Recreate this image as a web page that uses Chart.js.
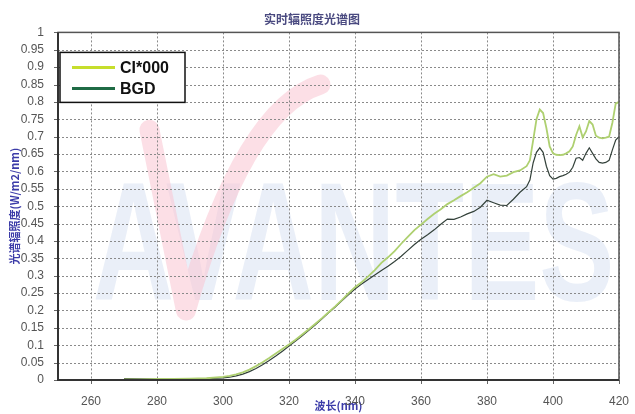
<!DOCTYPE html>
<html>
<head>
<meta charset="utf-8">
<script src="https://cdn.jsdelivr.net/npm/chart.js@4"></script>
<style>
  html, body { margin: 0; padding: 0; background: #fff; }
  #wrap { width: 635px; height: 414px; position: relative; }
</style>
</head>
<body>
<div id="wrap"><canvas id="spectrumChart" width="635" height="414"></canvas></div>
<script>
// ====== data ======
const chartTitle = '实时辐照度光谱图';
const xTitle = '波长(nm)';
const yTitle = '光谱辐照度(W/m2/nm)';

const wavelengths = [270, 275, 280, 285, 290, 295, 300,
  302, 304, 306, 308, 310, 312, 314, 316, 318, 320, 322, 324, 326, 328, 330,
  332, 334, 336, 338, 340, 342, 344, 346, 348, 350, 352, 354, 356, 358, 360,
  362, 364, 366, 368, 370, 372, 374, 376, 378, 380, 382, 384, 386, 388, 390, 392,
  393, 394, 395, 396, 397, 398, 399, 400, 401, 402, 403, 404, 405, 406, 407, 408,
  409, 410, 411, 412, 413, 414, 415, 416, 417, 418, 419, 420];

const ciValues = [0.002, 0.002, 0.003, 0.003, 0.004, 0.005, 0.009,
  0.012, 0.016, 0.022, 0.030, 0.040, 0.051, 0.063, 0.076, 0.089, 0.102, 0.116, 0.131, 0.146, 0.162, 0.178,
  0.195, 0.212, 0.230, 0.249, 0.267, 0.281, 0.298, 0.316, 0.337, 0.353, 0.371, 0.392, 0.412, 0.431, 0.447,
  0.463, 0.478, 0.491, 0.506, 0.517, 0.529, 0.540, 0.553, 0.566, 0.585, 0.592, 0.585, 0.588, 0.598, 0.603, 0.615,
  0.632, 0.690, 0.750, 0.778, 0.768, 0.725, 0.672, 0.652, 0.648, 0.647, 0.648, 0.652, 0.658, 0.672, 0.705, 0.730,
  0.698, 0.715, 0.745, 0.735, 0.703, 0.697, 0.695, 0.697, 0.700, 0.740, 0.795, 0.800];

const bgdValues = [0.004, 0.003, 0.003, 0.003, 0.003, 0.004, 0.006,
  0.008, 0.012, 0.017, 0.024, 0.033, 0.044, 0.056, 0.069, 0.083, 0.098, 0.112, 0.127, 0.143, 0.159, 0.176,
  0.193, 0.210, 0.228, 0.245, 0.262, 0.276, 0.289, 0.302, 0.315, 0.327, 0.341, 0.356, 0.373, 0.390, 0.405,
  0.418, 0.432, 0.448, 0.463, 0.462, 0.469, 0.478, 0.485, 0.497, 0.517, 0.510, 0.503, 0.502, 0.520, 0.540, 0.556,
  0.575, 0.625, 0.655, 0.668, 0.655, 0.615, 0.588, 0.578, 0.580, 0.585, 0.588, 0.592, 0.598, 0.612, 0.638, 0.640,
  0.632, 0.652, 0.668, 0.652, 0.636, 0.626, 0.624, 0.626, 0.632, 0.662, 0.690, 0.700];

const xTicks = [260, 280, 300, 320, 340, 360, 380, 400, 420];
const yTicks = [0, 0.05, 0.1, 0.15, 0.2, 0.25, 0.3, 0.35, 0.4, 0.45, 0.5,
  0.55, 0.6, 0.65, 0.7, 0.75, 0.8, 0.85, 0.9, 0.95, 1];

// ====== faint watermark + dotted grid behind the curves ======
const backdrop = {
  id: 'backdrop',
  beforeDatasetsDraw(chart) {
    const ctx = chart.ctx;
    const a = chart.chartArea;
    const w = a.right - a.left, h = a.bottom - a.top;
    ctx.save();
    ctx.fillStyle = '#fff';
    ctx.fillRect(a.left, a.top, w, h);
    // blue letters
    ctx.fillStyle = 'rgba(206,218,238,0.42)';
    ctx.font = 'bold 168px "Liberation Sans", Arial, sans-serif';
    ctx.textBaseline = 'alphabetic';
    const txt = 'AVANTES';
    const tw = ctx.measureText(txt).width;
    ctx.translate(a.left + w * 0.062, a.top + h * 0.77);
    ctx.scale(w * 0.93 / tw, 1);
    ctx.fillText(txt, 0, 0);
    ctx.restore();
    // pink check stroke
    ctx.save();
    ctx.strokeStyle = 'rgba(250,196,210,0.55)';
    ctx.lineWidth = 20;
    ctx.lineCap = 'round';
    ctx.lineJoin = 'round';
    ctx.beginPath();
    ctx.moveTo(a.left + w * 0.163, a.top + h * 0.28);
    ctx.lineTo(a.left + w * 0.228, a.top + h * 0.80);
    ctx.quadraticCurveTo(a.left + w * 0.33, a.top + h * 0.22, a.left + w * 0.468, a.top + h * 0.15);
    ctx.stroke();
    ctx.restore();

    // dotted grid + tick marks from the scales
    const xs = chart.scales.x, ys = chart.scales.y;
    ctx.save();
    ctx.strokeStyle = '#8a8a8a';
    ctx.lineWidth = 1;
    ctx.setLineDash([2, 2]);
    xTicks.forEach(v => {
      const px = Math.round(xs.getPixelForValue(v)) + 0.5;
      ctx.beginPath();
      ctx.moveTo(px, a.top);
      ctx.lineTo(px, a.bottom);
      ctx.stroke();
    });
    yTicks.forEach(v => {
      const py = Math.round(ys.getPixelForValue(v)) + 0.5;
      ctx.beginPath();
      ctx.moveTo(a.left, py);
      ctx.lineTo(a.right, py);
      ctx.stroke();
    });
    ctx.setLineDash([]);
    ctx.strokeStyle = '#666';
    xTicks.forEach(v => {
      const px = Math.round(xs.getPixelForValue(v)) + 0.5;
      ctx.beginPath();
      ctx.moveTo(px, a.bottom);
      ctx.lineTo(px, a.bottom + 4);
      ctx.stroke();
    });
    yTicks.forEach(v => {
      const py = Math.round(ys.getPixelForValue(v)) + 0.5;
      ctx.beginPath();
      ctx.moveTo(a.left - 4, py);
      ctx.lineTo(a.left, py);
      ctx.stroke();
    });
    ctx.restore();
  }
};

// ====== frame + boxed legend ======
const frameLegend = {
  id: 'frameLegend',
  afterDraw(chart) {
    const ctx = chart.ctx;
    const a = chart.chartArea;
    ctx.save();
    ctx.strokeStyle = '#555';
    ctx.lineWidth = 1.5;
    ctx.strokeRect(a.left, a.top, a.right - a.left, a.bottom - a.top);
    ctx.strokeStyle = '#333';
    ctx.lineWidth = 2;
    ctx.beginPath();
    ctx.moveTo(a.left, a.top);
    ctx.lineTo(a.left, a.bottom);
    ctx.lineTo(a.right, a.bottom);
    ctx.stroke();

    // legend box
    const bx = a.left + 2, by = a.top + 20, bw = 125, bh = 50;
    ctx.fillStyle = '#fff';
    ctx.fillRect(bx, by, bw, bh);
    ctx.strokeStyle = '#111';
    ctx.lineWidth = 1.5;
    ctx.strokeRect(bx, by, bw, bh);
    ctx.font = 'bold 16px "Liberation Sans", Arial, sans-serif';
    ctx.textBaseline = 'middle';
    chart.data.datasets.forEach((ds, i) => {
      const y = by + 15 + i * 21;
      ctx.strokeStyle = ds.legendColor;
      ctx.lineWidth = 3;
      ctx.beginPath();
      ctx.moveTo(bx + 12, y);
      ctx.lineTo(bx + 55, y);
      ctx.stroke();
      ctx.fillStyle = '#111';
      ctx.fillText(ds.label, bx + 60, y + 1);
    });
    ctx.restore();
  }
};

const ctx = document.getElementById('spectrumChart').getContext('2d');
new Chart(ctx, {
  type: 'line',
  data: {
    datasets: [{
      label: 'CI*000',
      data: wavelengths.map((w, i) => ({ x: w, y: ciValues[i] })),
      borderColor: '#aed070',
      legendColor: '#c6de2c',
      borderWidth: 1.8,
      pointRadius: 0,
      tension: 0
    }, {
      label: 'BGD',
      data: wavelengths.map((w, i) => ({ x: w, y: bgdValues[i] })),
      borderColor: '#33413a',
      legendColor: '#1f6b45',
      borderWidth: 1.2,
      pointRadius: 0,
      tension: 0
    }]
  },
  options: {
    responsive: false,
    animation: false,
    layout: { padding: { top: 1, right: 11, left: 0, bottom: 0 } },
    plugins: {
      legend: { display: false },
      tooltip: { enabled: false },
      title: {
        display: true,
        text: chartTitle,
        color: '#4a4a80',
        font: { size: 12, family: '"Noto Sans CJK SC", sans-serif' },
        padding: { top: 11, bottom: 6 }
      }
    },
    scales: {
      x: {
        type: 'linear',
        min: 250,
        max: 420,
        afterBuildTicks: scale => { scale.ticks = xTicks.map(v => ({ value: v })); },
        afterFit: scale => { scale.height = 34; },
        ticks: {
          color: '#555',
          font: { size: 12, family: '"Liberation Sans", Arial, sans-serif' },
          padding: 6,
          autoSkip: false,
          maxRotation: 0,
          callback: v => String(v)
        },
        grid: { display: false },
        border: { display: false },
        title: {
          display: true,
          text: xTitle,
          color: '#3b3ba8',
          font: { size: 11, weight: 'bold', family: '"Noto Sans CJK SC", sans-serif' },
          padding: { top: 0, bottom: 2 }
        }
      },
      y: {
        min: 0,
        max: 1,
        afterBuildTicks: scale => { scale.ticks = yTicks.map(v => ({ value: v })); },
        afterFit: scale => { scale.width = 58; },
        ticks: {
          color: '#555',
          font: { size: 12, family: '"Liberation Sans", Arial, sans-serif' },
          padding: 6,
          autoSkip: false,
          callback: v => String(v)
        },
        grid: { display: false },
        border: { display: false },
        title: {
          display: true,
          text: yTitle,
          color: '#3b3ba8',
          font: { size: 11, weight: 'bold', family: '"Noto Sans CJK SC", sans-serif' },
          padding: { top: 8, bottom: 0 }
        }
      }
    }
  },
  plugins: [backdrop, frameLegend]
});
</script>
</body>
</html>
